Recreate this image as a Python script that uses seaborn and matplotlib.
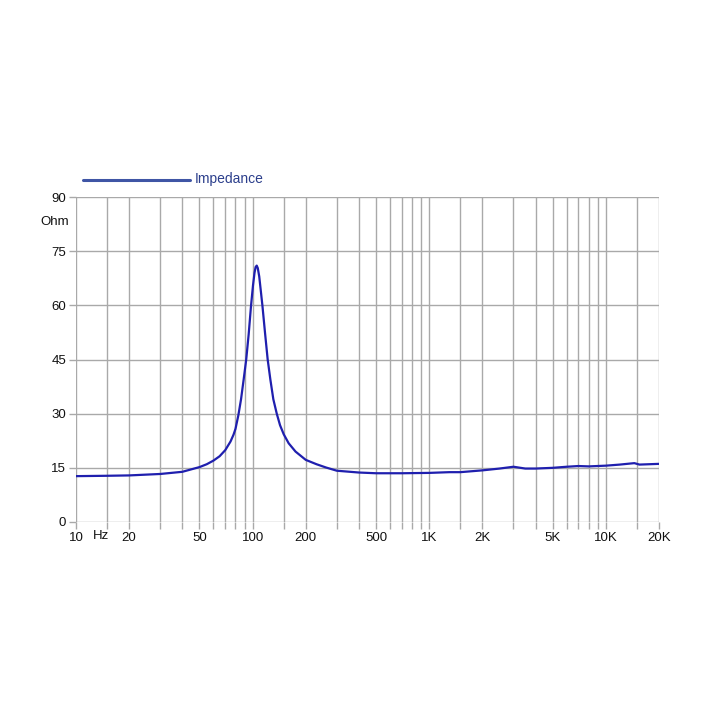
import matplotlib
matplotlib.use("Agg")
import matplotlib.pyplot as plt
from matplotlib.lines import Line2D
from matplotlib.ticker import FixedLocator, NullLocator
import matplotlib.transforms as mtransforms
import seaborn as sns
import pandas as pd

freq_hz = [10, 15, 20, 30, 40, 50, 55, 60, 65, 70, 75, 78, 80, 83, 86, 89, 92,
           95, 98, 100.5, 102.5, 104, 105.5, 107, 109, 111, 113.6, 117.5,
           121.7, 126, 131, 137, 143, 150, 160, 175, 200, 230, 260, 300,
           400, 500, 700, 1000, 1300, 1500, 2000, 2500, 3000, 3500, 4000, 5000,
           6000, 7000, 8000, 10000, 12000, 14500, 15500, 20000]
impedance_ohm = [12.7, 12.8, 12.9, 13.3, 13.9, 15.2, 16.0, 17.0, 18.2, 19.9,
                 22.3, 24.2, 25.8, 29.5, 34, 39.5, 45,
                 52, 60, 65.5, 69, 70.6, 71, 70.3, 68, 64.5, 60, 52.5,
                 45, 39.5, 34, 30, 26.8, 24.3, 21.8, 19.5, 17.2, 16.0, 15.1, 14.2,
                 13.7, 13.5, 13.5, 13.6, 13.8, 13.8, 14.3, 14.8, 15.3, 14.8,
                 14.8, 15.0, 15.3, 15.5, 15.4, 15.6, 15.9, 16.3, 15.9, 16.1]

grid_freqs = [10, 15, 20, 30, 40, 50, 60, 70, 80, 90, 100, 150, 200, 300, 400,
              500, 600, 700, 800, 900, 1000, 1500, 2000, 3000, 4000, 5000, 6000,
              7000, 8000, 9000, 10000, 15000, 20000]
x_tick_labels = {10: "10", 20: "20", 50: "50", 100: "100", 200: "200",
                 500: "500", 1000: "1K", 2000: "2K", 5000: "5K",
                 10000: "10K", 20000: "20K"}
y_ticks = [0, 15, 30, 45, 60, 75, 90]
series_name = "Impedance"

sns.set_style("white")
plt.rcParams["font.family"] = ["Liberation Sans", "DejaVu Sans"]

fig = plt.figure(figsize=(7.13, 7.13), dpi=100)
ax = fig.add_axes([76 / 713, 1 - 522 / 713, (659 - 76) / 713, (522 - 197) / 713])

df = pd.DataFrame({"freq": freq_hz, "ohm": impedance_ohm})
sns.lineplot(data=df, x="freq", y="ohm", ax=ax, color="#1f1fae", lw=1.6,
             estimator=None, sort=True)

ax.set_xscale("log")
ax.set_xlim(10, 20000)
ax.set_ylim(0, 90)

gc = "#a9a9a9"
ax.xaxis.set_major_locator(FixedLocator(grid_freqs))
ax.xaxis.set_minor_locator(NullLocator())
ax.set_xticklabels([x_tick_labels.get(f, "") for f in grid_freqs])
ax.set_yticks(y_ticks)
ax.set_yticklabels([str(v) for v in y_ticks])
ax.grid(True, which="major", color=gc, lw=1.0)
ax.set_axisbelow(True)
ax.tick_params(axis="both", which="major", length=5, width=1.0, color=gc,
               labelsize=9.5, labelcolor="#111111", pad=2,
               direction="out", bottom=True, left=True)
for s in ax.spines.values():
    s.set_visible(False)
ax.set_xlabel("")
ax.set_ylabel("")

trans = mtransforms.blended_transform_factory(ax.transData, ax.transAxes)
ax.text(13.9, -0.024, "Hz", transform=trans, ha="center", va="top",
        fontsize=9.5, color="#111111")
fig.text(55 / 713, 1 - 222 / 713, "Ohm", ha="center", va="center",
         fontsize=9.5, color="#111111")

fig.add_artist(Line2D([83 / 713, 190 / 713], [1 - 180 / 713, 1 - 180 / 713],
                      color="#3f55a5", lw=2.2, transform=fig.transFigure))
fig.text(195 / 713, 1 - 179 / 713, series_name, ha="left", va="center",
         fontsize=10, color="#2c3f8c")

fig.savefig("out.png", dpi=100, facecolor="white")
